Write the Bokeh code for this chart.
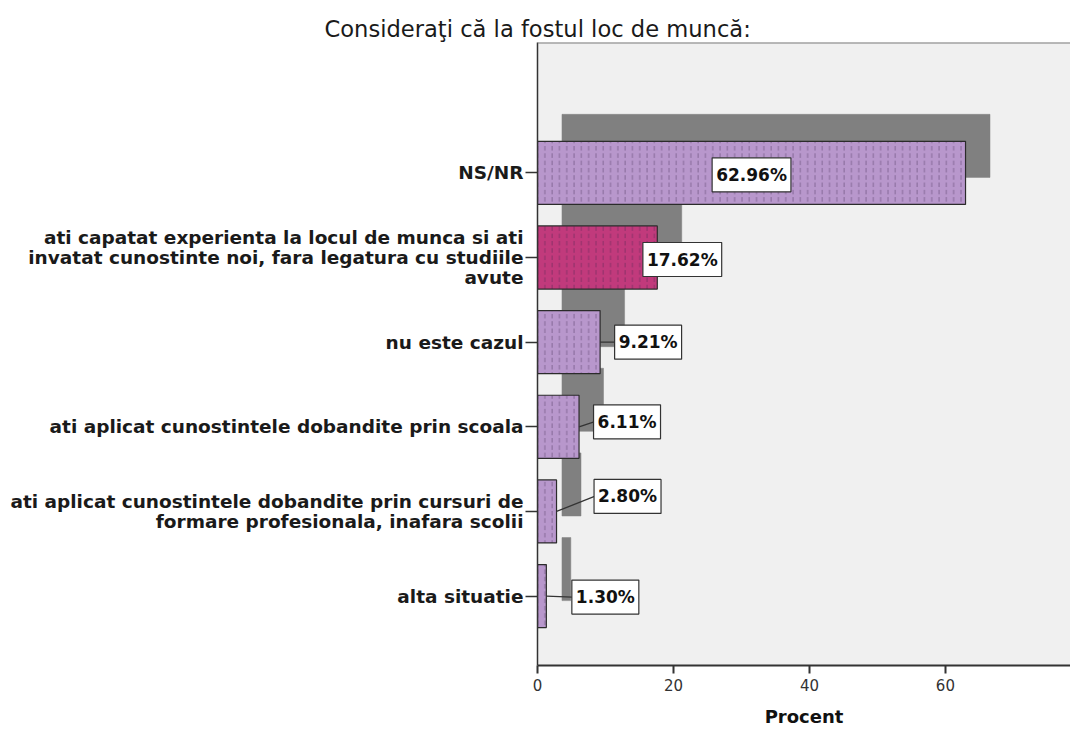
from bokeh.plotting import figure
from bokeh.models import ColumnDataSource, Range1d, FixedTicker, Span
from bokeh.core.properties import value
from bokeh.embed import file_html
from bokeh.resources import INLINE

# ---- data ----
categories = [
    "NS/NR",
    "ati capatat experienta la locul de munca si ati\ninvatat cunostinte noi, fara legatura cu studiile\navute",
    "nu este cazul",
    "ati aplicat cunostintele dobandite prin scoala",
    "ati aplicat cunostintele dobandite prin cursuri de\nformare profesionala, inafara scolii",
    "alta situatie",
]
percent = [62.96, 17.62, 9.21, 6.11, 2.80, 1.30]
x_ticks = [0, 20, 40, 60]

# ---- layout constants ----
W, H = 1070, 729
BL, BR, BT, BB = 537, 0, 42, 64
X_END = 78.4
Y_START, Y_END = 0.18, 7.54
frame_w = W - BL - BR
frame_h = H - BT - BB
px_x = frame_w / X_END
px_y = frame_h / (Y_END - Y_START)

n = len(categories)
ys = [n - i for i in range(n)]
bar_h = 0.745
sh_dx = 3.6            # shadow offset (data units, x)
sh_dy = 27.0 / px_y    # shadow offset (data units, y)

lavender = "#b897cc"
magenta = "#c13a7c"
fills = [magenta if i == 1 else lavender for i in range(n)]

# label offsets in screen px relative to bar end
label_dx = [-214, 25, 48, 48, 71, 59]
label_dy = [2, 2, 0, -5, -15, 1]
labels = [f"{v:.2f}%" for v in percent]

src = ColumnDataSource(dict(
    y=ys, v=percent, fill=fills, lab=labels, dx=label_dx, dy=label_dy,
    bl=[y - bar_h / 2 for y in ys], bt=[y + bar_h / 2 for y in ys],
    sl=[sh_dx] * n, sr=[v + sh_dx for v in percent],
    sb=[y - bar_h / 2 + sh_dy for y in ys], st=[y + bar_h / 2 + sh_dy for y in ys],
    z=[0] * n,
))

p = figure(width=W, height=H, output_backend="svg", toolbar_location=None,
           x_range=Range1d(0, X_END), y_range=Range1d(Y_START, Y_END),
           min_border_left=BL, min_border_right=BR, min_border_top=BT, min_border_bottom=BB)

p.background_fill_color = "#f0f0f0"
p.border_fill_color = "white"
p.outline_line_color = None
p.xgrid.visible = False
p.ygrid.visible = False
p.add_layout(Span(location=Y_END, dimension="width", line_color="#7a7a7a", line_width=2))

# title
p.title.text = "Consideraţi că la fostul loc de muncă:"
p.title.align = "left"
p.title.offset = -213
p.title.text_font = "DejaVu Sans"
p.title.text_font_size = "22.6px"
p.title.text_font_style = "normal"
p.title.text_color = "#1a1a1a"
p.title.standoff = 2

# shadows
p.quad(left="sl", right="sr", bottom="sb", top="st", source=src,
       fill_color="#808080", line_color="#808080", line_width=0.5)

# bars
p.quad(left="z", right="v", bottom="bl", top="bt", source=src,
       fill_color="fill", line_color="#2b2b2b", line_width=1.2,
       hatch_pattern=":", hatch_color="#3a2448", hatch_alpha=0.4,
       hatch_scale=7.3, hatch_weight=1.0)

# leader lines (small bars only)
lx0, lx1, ly0, ly1 = [], [], [], []
for i, v in enumerate(percent):
    half = 4.1 * 17 * len(labels[i]) / 6 / 2 + 4
    box_left = v * px_x + label_dx[i] - half
    if box_left > v * px_x + 2:
        lx0.append(v)
        lx1.append(box_left / px_x)
        ly0.append(ys[i])
        ly1.append(ys[i] - label_dy[i] / px_y)
p.segment(x0=lx0, y0=ly0, x1=lx1, y1=ly1, line_color="#333333", line_width=1.3)

# value labels
p.text(x="v", y="y", text="lab", source=src, x_offset="dx", y_offset="dy",
       text_align="center", text_baseline="middle",
       text_font=value("DejaVu Sans"), text_font_style="bold",
       text_font_size="17px", text_color="#111111",
       background_fill_color="white", border_line_color="#333333",
       border_line_width=1.2, padding=(4, 7))

# axes
xa = p.xaxis[0]
xa.ticker = FixedTicker(ticks=x_ticks)
xa.axis_label = "Procent"
xa.axis_label_text_font = "DejaVu Sans"
xa.axis_label_text_font_style = "bold"
xa.axis_label_text_font_size = "18px"
xa.axis_label_text_color = "#111111"
xa.axis_label_standoff = 12
xa.major_label_text_font = "DejaVu Sans"
xa.major_label_text_font_size = "15px"
xa.major_label_text_color = "#333333"
xa.major_label_standoff = 5
xa.axis_line_color = "#333333"
xa.axis_line_width = 2
xa.major_tick_line_color = "#333333"
xa.major_tick_line_width = 2
xa.major_tick_out = 8
xa.major_tick_in = 0
xa.minor_tick_line_color = None

ya = p.yaxis[0]
ya.ticker = FixedTicker(ticks=ys)
ya.major_label_overrides = {y: c for y, c in zip(ys, categories)}
ya.major_label_text_font = "DejaVu Sans"
ya.major_label_text_font_style = "bold"
ya.major_label_text_font_size = "18.5px"
ya.major_label_text_color = "#1a1a1a"
ya.major_label_text_line_height = 0.93
ya.major_label_standoff = 2
ya.axis_line_color = "#333333"
ya.axis_line_width = 1.5
ya.major_tick_line_color = "#333333"
ya.major_tick_line_width = 1.3
ya.major_tick_out = 12
ya.major_tick_in = 0
ya.minor_tick_line_color = None

open("out.html", "w").write(file_html(p, INLINE))
